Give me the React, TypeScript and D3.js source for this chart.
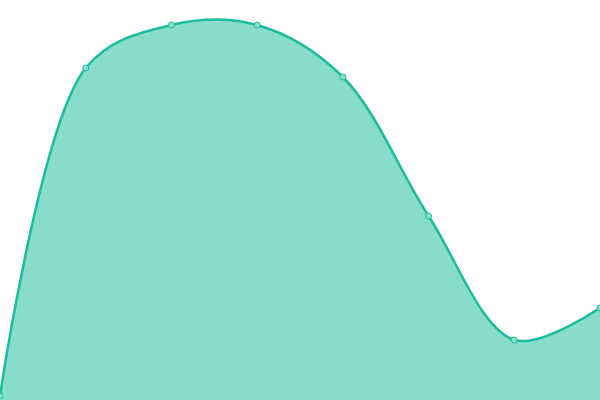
import React, { useEffect, useRef } from 'react';
import * as d3 from 'd3';

// 数据：8个等间距的点
const categories = ['A', 'B', 'C', 'D', 'E', 'F', 'G', 'H'];
const values = [4, 332, 375, 375, 323, 184, 60, 92];

const WIDTH = 600;
const HEIGHT = 400;

const App: React.FC = () => {
  const ref = useRef<SVGSVGElement>(null);

  useEffect(() => {
    document.body.style.margin = '0';
    const svg = d3.select(ref.current);
    svg.selectAll('*').remove();

    const x = d3.scalePoint<string>().domain(categories).range([0, WIDTH]);
    const y = d3.scaleLinear().domain([0, 400]).range([HEIGHT, 0]);

    const data = categories.map((c, i) => ({ c, v: values[i] }));

    // 面积
    const area = d3.area<{ c: string; v: number }>()
      .x(d => x(d.c)!)
      .y0(HEIGHT)
      .y1(d => y(d.v))
      .curve(d3.curveCatmullRom);

    svg.append('path')
      .datum(data)
      .attr('d', area)
      .attr('fill', '#1abc9c')
      .attr('fill-opacity', 0.52);

    // 折线
    const line = d3.line<{ c: string; v: number }>()
      .x(d => x(d.c)!)
      .y(d => y(d.v))
      .curve(d3.curveCatmullRom);

    svg.append('path')
      .datum(data)
      .attr('d', line)
      .attr('fill', 'none')
      .attr('stroke', '#1abc9c')
      .attr('stroke-width', 2.5);

    // 数据点
    svg.selectAll('circle')
      .data(data)
      .enter()
      .append('circle')
      .attr('cx', d => x(d.c)!)
      .attr('cy', d => y(d.v))
      .attr('r', 3)
      .attr('fill', '#8ae0ce')
      .attr('stroke', '#1abc9c')
      .attr('stroke-width', 1);
  }, []);

  return <svg ref={ref} width={WIDTH} height={HEIGHT} style={{ display: 'block' }} />;
};

export default App;
